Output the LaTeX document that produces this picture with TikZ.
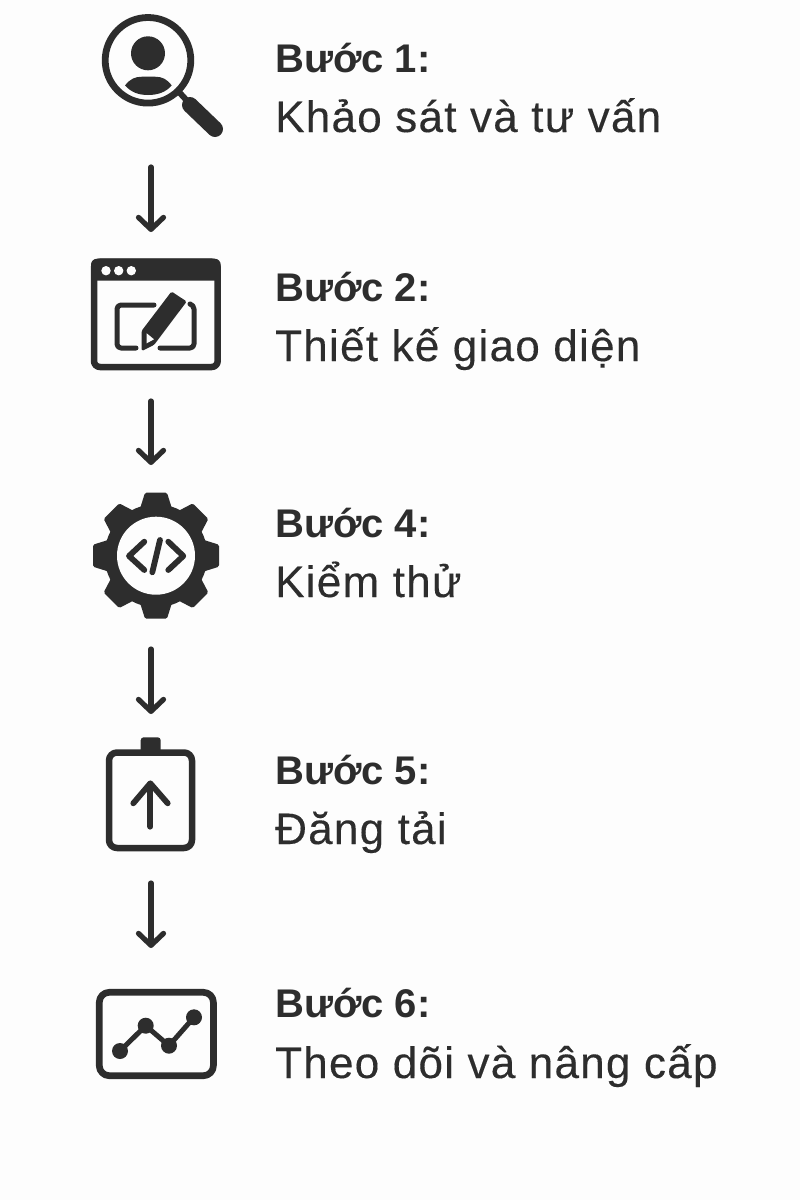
\documentclass[tikz,border=0pt]{standalone}
\usepackage{fontspec}
\setmainfont{Liberation Sans}
\newfontfamily\bodyfont[LetterSpace=2.9,FakeBold=0.25]{Liberation Sans}
\usetikzlibrary{arrows.meta}
\definecolor{inkdark}{HTML}{2D2D2D}
\definecolor{paper}{HTML}{FDFDFD}
\tikzset{
  iconbox/.style={minimum width=10pt,inner sep=0pt,outer sep=0pt},
  flow/.style={inkdark,line width=5.2pt,line cap=round,-{Straight Barb[length=12pt,width=25pt,round]}},
  stepnum/.style={anchor=base west,inner sep=0pt,text=inkdark,font=\fontsize{40}{48}\selectfont\bfseries},
  steptext/.style={anchor=base west,inner sep=0pt,text=inkdark,font=\fontsize{44}{52}\bodyfont},
  stroke/.style={draw=inkdark,line cap=round,line join=round},
  solid ink/.style={fill=inkdark}
}
\begin{document}
\begin{tikzpicture}[x=1pt,y=-1pt,join=round]
  \fill[paper] (0,0) rectangle (800,1200);
  \useasboundingbox (0,0) rectangle (800,1200);
  % Icon boxes, the arrows hang on them
  \node[iconbox,minimum height=182pt] (icon1) at (151,76) {};
  \node[iconbox,minimum height=169pt] (icon2) at (151,316.5) {};
  \node[iconbox,minimum height=184pt] (icon3) at (151,557) {};
  \node[iconbox,minimum height=169pt] (icon4) at (151,798.5) {};
  \node[iconbox,minimum height=172pt] (icon5) at (151,1034) {};
  \draw[flow] (icon1.south) -- (icon2.north);
  \draw[flow] (icon2.south) -- (icon3.north);
  \draw[flow] (icon3.south) -- (icon4.north);
  \draw[flow] (icon4.south) -- (icon5.north);
  % Magnifier
  \draw[stroke,line width=6.8pt] (148,60.3) circle (42.8);
  \fill[solid ink] (148,53.3) circle (17);
  \fill[solid ink] (125,85.5) .. controls (130,79) and (135,76.7) .. (142,76.7) -- (155,76.7)
     .. controls (162,76.7) and (167,79) .. (171.7,85.5) .. controls (166,92) and (158,95) .. (148,95)
     .. controls (138,95) and (131,92) .. (125,85.5) -- cycle;
  \draw[stroke,line width=6pt] (179,92) -- (190,104);
  \draw[stroke,line width=16pt] (190,105) -- (215,129);
  % Browser window
  \draw[stroke,line width=6.5pt,rounded corners=6pt] (94,261.7) rectangle (217.7,367);
  \fill[solid ink,rounded corners=6pt] (91,280.7) -- (91,258.7) -- (220.7,258.7) -- (220.7,280.7) -- cycle;
  \fill[paper] (106,270.7) circle (4.7) (118.7,270.7) circle (4.7) (131.3,270.7) circle (4.7);
  \draw[stroke,line width=5pt,rounded corners=4pt] (154,305) -- (117,305) -- (117,348) -- (136,348);
  \draw[stroke,line width=5pt,rounded corners=4pt] (160,348) -- (194,348) -- (194,305) -- (190,304);
  \fill[solid ink,rounded corners=1.5pt] (141.5,331) -- (171.5,291.5) -- (186.7,301.5) -- (154,345) -- (141.7,351) -- cycle;
  \fill[paper] (146.7,333.3) -- (154,339.3) -- (146.7,343.3) -- cycle;
  % Gear
  \begin{scope}[shift={(156,555.7)}]
    \fill[solid ink] (0,0) circle (51.5);
    \foreach \a in {0,45,...,315}
      \fill[solid ink,rotate=\a,rounded corners=1.5pt] (-16,-47) -- (-11,-63) -- (11,-63) -- (16,-47) -- cycle;
    \fill[paper] (0,0) circle (39);
  \end{scope}
  \draw[stroke,line width=5.8pt] (144.3,541.7) -- (129,556) -- (144.3,570);
  \draw[stroke,line width=5.8pt] (168.3,541.7) -- (183.3,556) -- (168.3,570);
  \draw[stroke,line width=5.8pt] (160,540) -- (152.3,572.3);
  % Upload panel
  \fill[solid ink,rounded corners=3pt] (140.7,755) -- (140.7,737.3) -- (160.7,737.3) -- (160.7,755) -- cycle;
  \draw[stroke,line width=6.5pt,rounded corners=8pt,fill=paper] (109,752.5) rectangle (192,848);
  \draw[stroke,line width=5.8pt] (150.3,826.7) -- (150.3,784);
  \draw[stroke,line width=5.8pt] (133.3,803.3) -- (150.3,783.3) -- (167.7,803.3);
  % Chart
  \draw[stroke,line width=6.7pt,rounded corners=10pt] (99.3,992.3) rectangle (213.4,1075.7);
  \draw[stroke,line width=5pt] (120,1051) -- (145.7,1025.7) -- (169,1045.7) -- (194,1017.3);
  \fill[solid ink] (120,1051) circle (8) (145.7,1025.7) circle (8) (169,1045.7) circle (8) (194,1017.3) circle (8);
  % Labels
  \node[stepnum] (num1) at (275,72) {Bước 1:};
  \node[steptext] (txt1) at (275,132) {Khảo sát và tư vấn};
  \node[stepnum] (num2) at (275,301) {Bước 2:};
  \node[steptext] (txt2) at (275,361) {Thiết kế giao diện};
  \node[stepnum] (num3) at (275,537) {Bước 4:};
  \node[steptext] (txt3) at (275,597) {Kiểm thử};
  \node[stepnum] (num4) at (275,784) {Bước 5:};
  \node[steptext] (txt4) at (275,844) {Đăng tải};
  \node[stepnum] (num5) at (275,1017) {Bước 6:};
  \node[steptext] (txt5) at (275,1078) {Theo dõi và nâng cấp};
\end{tikzpicture}
\end{document}
